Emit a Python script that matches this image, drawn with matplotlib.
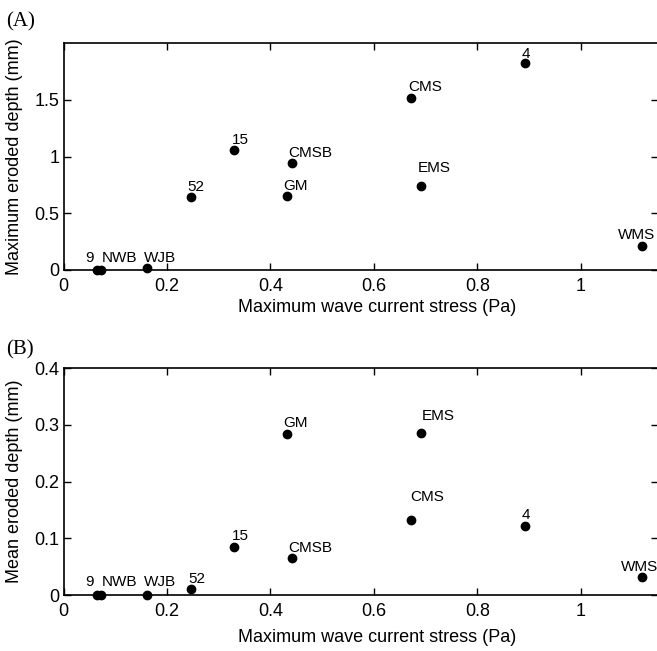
import matplotlib
matplotlib.use("Agg")
import matplotlib.pyplot as plt

# ---- data ----
sites = ["9", "NWB", "WJB", "52", "15", "GM", "CMSB", "CMS", "EMS", "4", "WMS"]
max_stress = [0.064, 0.072, 0.161, 0.246, 0.330, 0.431, 0.441, 0.671, 0.691, 0.892, 1.118]
max_depth = [0.0, 0.0, 0.015, 0.647, 1.056, 0.650, 0.944, 1.515, 0.744, 1.820, 0.214]
mean_depth = [0.0, 0.0, 0.0, 0.011, 0.085, 0.284, 0.065, 0.132, 0.285, 0.122, 0.031]

x_ticks = [0, 0.2, 0.4, 0.6, 0.8, 1.0]
x_ticklabels = ["0", "0.2", "0.4", "0.6", "0.8", "1"]
yA_ticks = [0, 0.5, 1.0, 1.5]
yA_ticklabels = ["0", "0.5", "1", "1.5"]
yB_ticks = [0, 0.1, 0.2, 0.3, 0.4]
yB_ticklabels = ["0", "0.1", "0.2", "0.3", "0.4"]

# label offsets in pixels (dx to left edge, dy to baseline above point)
offA = [(-11, 8), (1, 8), (-3, 6), (-3, 6), (-2, 6), (-3, 6), (-3, 6), (-2, 7), (-3, 14), (-3, 5.5), (-24, 7)]
offB = [(-11, 9), (1, 9), (-3, 9), (-2.5, 5.5), (-2, 6.5), (-3, 7), (-3, 6.5), (0, 19), (0.5, 13), (-3, 6.5), (-21, 6.5)]

W, H = 657, 651
fig = plt.figure(figsize=(W / 100, H / 100), dpi=100)

SANS = ["Liberation Sans", "DejaVu Sans"]
SERIF = ["Liberation Serif", "DejaVu Serif"]

LEFT, RIGHT = 63.5, 658

def make_axes(top_px, bot_px):
    return fig.add_axes([LEFT / W, 1 - bot_px / H, (RIGHT - LEFT) / W, (bot_px - top_px) / H])

def style(ax, yticks, yticklabels, ylim, ylabel, xlabel_y):
    ax.set_xlim(0, 1.149)
    ax.set_ylim(*ylim)
    ax.set_xticks(x_ticks)
    ax.set_xticklabels(x_ticklabels, family=SANS, fontsize=13)
    ax.set_yticks(yticks)
    ax.set_yticklabels(yticklabels, family=SANS, fontsize=13)
    ax.tick_params(direction="in", length=5, width=1.0, top=True, right=True)
    ax.tick_params(axis="x", pad=6)
    ax.tick_params(axis="y", pad=3)
    for s in ax.spines.values():
        s.set_linewidth(1.2)
    ax.set_xlabel("Maximum wave current stress (Pa)", family=SANS, fontsize=13, va="top")
    ax.xaxis.set_label_coords(0.527, xlabel_y)
    ax.set_ylabel(ylabel, family=SANS, fontsize=13, va="center")
    ax.yaxis.set_label_coords(-(LEFT - 14.5) / (RIGHT - LEFT), 0.5)

def plot_panel(ax, yvals, offs):
    ax.plot(max_stress, yvals, linestyle="none", marker="o", ms=6, color="black", clip_on=False, zorder=3)
    for name, x, y, (dx, dy) in zip(sites, max_stress, yvals, offs):
        ax.annotate(name, (x, y), xytext=(dx * 0.72, dy * 0.72), textcoords="offset points",
                    ha="left", va="baseline", fontsize=11, family=SANS, annotation_clip=False)

axA = make_axes(43, 270)
plot_panel(axA, max_depth, offA)
style(axA, yA_ticks, yA_ticklabels, (0, 2.0), "Maximum eroded depth (mm)", -(299 - 270) / 227)

axB = make_axes(368.3, 595)
plot_panel(axB, mean_depth, offB)
style(axB, yB_ticks, yB_ticklabels, (0, 0.4), "Mean eroded depth (mm)", -(629 - 595) / 226.7)

fig.text(6 / W, 1 - 26 / H, "(A)", family=SERIF, fontsize=15, ha="left", va="baseline")
fig.text(6 / W, 1 - 354 / H, "(B)", family=SERIF, fontsize=15, ha="left", va="baseline")

fig.savefig("out.png", dpi=100)
